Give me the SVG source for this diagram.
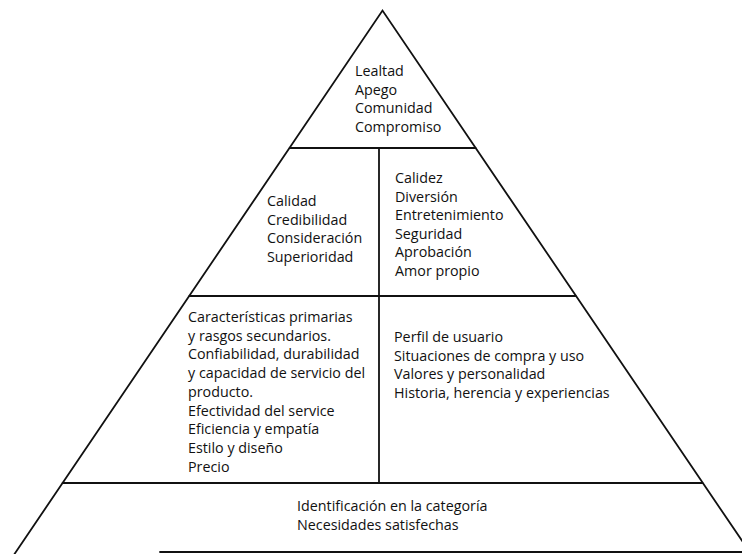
<svg xmlns="http://www.w3.org/2000/svg" width="742" height="554" viewBox="0 0 742 554">
<style>
.ln{stroke:#111;stroke-width:1.8;fill:none;stroke-linecap:round}
.t{font-family:"Open Sans","Noto Sans",sans-serif;font-size:14.3px;fill:#111}
</style>
<rect width="742" height="554" fill="#fff"/>
<g id="connectors">
<polyline class="ln" points="14.5,554 382.5,10.5 751,554"/>
<line class="ln" x1="289.7" y1="148" x2="475.6" y2="148"/>
<line class="ln" x1="189.4" y1="296" x2="575.6" y2="296"/>
<line class="ln" x1="62.6" y1="483" x2="702.4" y2="483"/>
<line class="ln" x1="160" y1="552" x2="742" y2="552"/>
<line class="ln" x1="379" y1="148" x2="379" y2="483"/>
</g>
<g id="top">
<text class="t" x="355" y="76">Lealtad</text>
<text class="t" x="355" y="94.5">Apego</text>
<text class="t" x="355" y="113">Comunidad</text>
<text class="t" x="355" y="131.5">Compromiso</text>
</g>
<g id="mid-left">
<text class="t" x="267" y="206">Calidad</text>
<text class="t" x="267" y="224.5">Credibilidad</text>
<text class="t" x="267" y="243">Consideración</text>
<text class="t" x="267" y="261.5">Superioridad</text>
</g>
<g id="mid-right">
<text class="t" x="395" y="183">Calidez</text>
<text class="t" x="395" y="201.5">Diversión</text>
<text class="t" x="395" y="220">Entretenimiento</text>
<text class="t" x="395" y="238.5">Seguridad</text>
<text class="t" x="395" y="257">Aprobación</text>
<text class="t" x="395" y="275.5">Amor propio</text>
</g>
<g id="low-left">
<text class="t" x="188" y="322">Características primarias</text>
<text class="t" x="188" y="340.7">y rasgos secundarios.</text>
<text class="t" x="188" y="359.4">Confiabilidad, durabilidad</text>
<text class="t" x="188" y="378.1">y capacidad de servicio del</text>
<text class="t" x="188" y="396.8">producto.</text>
<text class="t" x="188" y="415.5">Efectividad del service</text>
<text class="t" x="188" y="434.2">Eficiencia y empatía</text>
<text class="t" x="188" y="452.9">Estilo y diseño</text>
<text class="t" x="188" y="471.6">Precio</text>
</g>
<g id="low-right">
<text class="t" x="394" y="342">Perfil de usuario</text>
<text class="t" x="394" y="360.5">Situaciones de compra y uso</text>
<text class="t" x="394" y="379">Valores y personalidad</text>
<text class="t" x="394" y="397.5">Historia, herencia y experiencias</text>
</g>
<g id="base">
<text class="t" x="297" y="511">Identificación en la categoría</text>
<text class="t" x="297" y="529.5">Necesidades satisfechas</text>
</g>
</svg>
